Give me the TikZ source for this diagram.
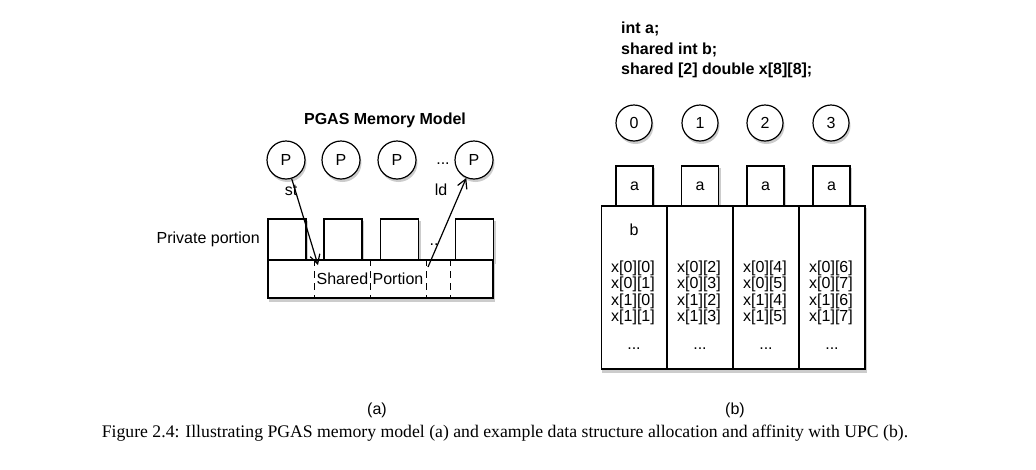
\documentclass[tikz,border=0pt]{standalone}
\usepackage{fontspec}
\setmainfont{Liberation Serif}
\setsansfont{Liberation Sans}
\usetikzlibrary{arrows.meta, positioning, backgrounds}
\tikzset{
  figfont/.style={font=\sffamily\fontsize{16}{19}\selectfont},
  figshade/.style={fill=black!20, draw=none},
  figproc/.style={circle, draw=black, fill=white, line width=1.2pt, inner sep=0pt,
    minimum size=#1, figfont},
  figproc/.default=38pt,
  figcell/.style={draw=black, fill=white, line width=1.2pt, inner sep=0pt,
    minimum width=#1, figfont},
  figcell/.default=38pt,
  figtext/.style={figfont, inner sep=1pt},
  figbold/.style={font=\sffamily\bfseries\fontsize{16}{20.5}\selectfont, inner sep=1pt, align=left},
  figarrow/.style={-{Straight Barb[length=9pt, width=10pt]}, line width=1.2pt},
  figdash/.style={line width=1.2pt, dash pattern=on 7pt off 5pt},
}
\begin{document}
\begin{tikzpicture}[x=1pt, y=-1pt]
  \useasboundingbox (0,0) rectangle (1036,469);

  % (a) PGAS-Speichermodell
  \node[figbold] (pgastitle) at (385,120) {PGAS Memory Model};
  \foreach \i/\px in {1/286,2/341,3/397,4/474}{
    \node[figproc] (P\i) at (\px,160) {P};
  }
  \node[figtext] (pdots) at (443,164) {...};

  \foreach \i/\bx in {1/287,2/343,3/399.5,4/474.5}{
    \node[figcell, minimum height=41pt] (priv\i) at (\bx,239.5) {};
  }
  \node[figcell=225pt, minimum height=38pt] (shared) at (380.5,279) {};
  \foreach \dx in {47,103,159,183}{
    \draw[figdash] ([xshift=\dx pt]shared.north west) -- ([xshift=\dx pt]shared.south west);
  }
  \node[figtext] (sharedlbl) at (370,279) {Shared Portion};
  \node[figtext, anchor=east] (privlbl) at (261,239) {Private portion};
  \node[figtext] (privdots) at (434,245) {..};

  \coordinate (stend) at (318,265);
  \coordinate (ldstart) at (428,267);
  \draw[figarrow] (P1) -- (stend);
  \draw[figarrow] (ldstart) -- (P4);
  \node[figtext] (stlbl) at (291,190) {st};
  \node[figtext] (ldlbl) at (441,190) {ld};

  % (b) UPC-Beispiel
  \node[figbold, anchor=west] (decl) at (620,50) {int a;\\shared int b;\\shared [2] double x[8][8];};
  \foreach \i/\cx/\ax in {0/634/634.5,1/700/700,2/765/765.5,3/831/831.5}{
    \node[figproc=36pt] (T\i) at (\cx,123) {\i};
    \node[figcell=37pt, minimum height=40pt] (A\i) at (\ax,186) {a};
  }
  \foreach \i/\colx in {0/634.5,1/700,2/766,3/832}{
    \node[figcell=66pt, minimum height=163pt] (col\i) at (\colx,287.5) {};
  }
  \node[figtext] (bvar) at (634,230) {b};
  \foreach \i/\colx/\ra/\rb in {0/633/0/1,1/699/2/3,2/765/4/5,3/831/6/7}{
    \node[figtext] (x\i a) at (\colx,268) {x[0][\ra]};
    \node[figtext] (x\i b) at (\colx,284.5) {x[0][\rb]};
    \node[figtext] (x\i c) at (\colx,301) {x[1][\ra]};
    \node[figtext] (x\i d) at (\colx,317.5) {x[1][\rb]};
    \node[figtext] (x\i dots) at (\colx+1,349) {...};
  }

  % Schatten
  \begin{scope}[on background layer]
    \foreach \n/\r in {P1/19,P2/19,P3/19,P4/19,T0/18,T1/18,T2/18,T3/18}{
      \fill[figshade] ([xshift=1.5pt, yshift=-3pt]\n.center) circle[radius=\r pt];
    }
    \foreach \n in {priv1,priv2,priv3,priv4,shared,A0,A1,A2,A3,col0,col1,col2,col3}{
      \fill[figshade] ([xshift=1.5pt, yshift=-3pt]\n.south west) rectangle ([xshift=1.5pt, yshift=-3pt]\n.north east);
    }
  \end{scope}

  % Unterschriften
  \node[figtext] (suba) at (377,410) {(a)};
  \node[figtext] (subb) at (735,410) {(b)};
  \node[font=\rmfamily\fontsize{17.7}{20}\selectfont, inner sep=1pt] (caption) at (505,433)
    {Figure 2.4: Illustrating PGAS memory model (a) and example data structure allocation and affinity with UPC (b).};
\end{tikzpicture}
\end{document}
